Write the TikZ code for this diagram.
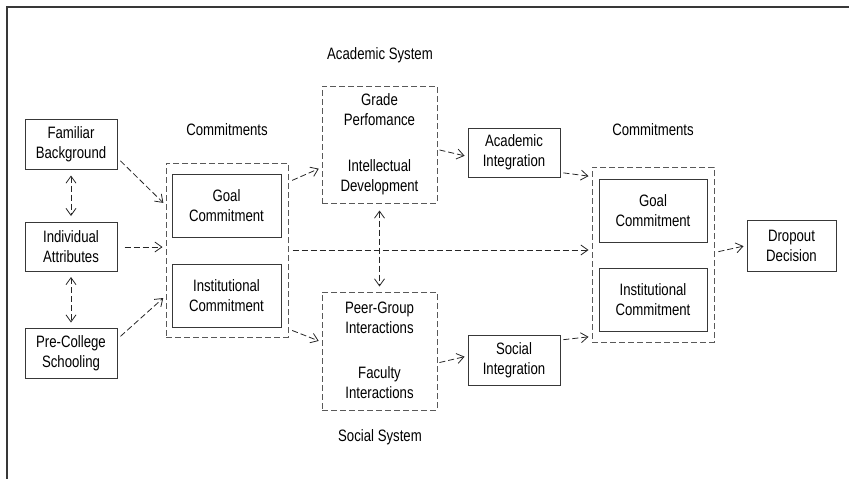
\documentclass[tikz,border=0pt]{standalone}
\usepackage{fontspec}
\setmainfont[FakeStretch=0.8]{Liberation Sans}
\usetikzlibrary{arrows.meta}
\definecolor{linie}{gray}{0.22}
\definecolor{punctat}{gray}{0.35}

\begin{document}
\begin{tikzpicture}[x=1pt,y=-1pt,
  font=\fontsize{16.5}{20}\selectfont,
  caseta/.style={draw=linie,line width=1pt,align=center,inner sep=0pt},
  grup/.style={draw=punctat,line width=1pt,dash pattern=on 6pt off 3pt,inner sep=0pt},
  eticheta/.style={align=center,text=black},
  sageata/.style={draw=black!85,line width=0.8pt,dash pattern=on 6pt off 3pt,
    -{Straight Barb[length=7pt,width=10pt]},shorten <=4pt,shorten >=3pt},
  dubla/.style={sageata,{Straight Barb[length=7pt,width=10pt]}-{Straight Barb[length=7pt,width=10pt]}}]
  \useasboundingbox (0,0) rectangle (849,479);

  % cadru
  \draw[linie,line width=1.2pt] (7,479) -- (7,7) -- (849,7);

  % factori de intrare
  \node[caseta,minimum width=92pt,minimum height=50pt] (fb) at (71,144) {Familiar\\Background};
  \node[caseta,minimum width=92pt,minimum height=49pt] (ia) at (71,247) {Individual\\Attributes};
  \node[caseta,minimum width=92pt,minimum height=50pt] (pc) at (71,353) {Pre-College\\Schooling};

  % angajamente (stânga)
  \node[eticheta] (tcl) at (227,130) {Commitments};
  \node[grup,minimum width=122pt,minimum height=174pt] (cl) at (227,250) {};
  \node[caseta,minimum width=109pt,minimum height=63pt] (gl) at (226.5,205.5) {Goal\\Commitment};
  \node[caseta,minimum width=109pt,minimum height=63pt] (il) at (226.5,295.5) {Institutional\\Commitment};

  % sistemul academic
  \node[eticheta] (tac) at (380,55) {Academic System};
  \node[grup,minimum width=115pt,minimum height=117pt] (acad) at (379.5,144.5) {};
  \node[eticheta] (gp) at (379.5,110) {Grade\\Perfomance};
  \node[eticheta] (id) at (379.5,177) {Intellectual\\Development};

  % sistemul social
  \node[grup,minimum width=115pt,minimum height=118pt] (soc) at (379.5,351) {};
  \node[eticheta] (pg) at (379.5,318) {Peer-Group\\Interactions};
  \node[eticheta] (fi) at (379.5,382.5) {Faculty\\Interactions};
  \node[eticheta] (tso) at (380,437) {Social System};

  % integrare
  \node[caseta,minimum width=92pt,minimum height=49pt] (ai) at (514,152.5) {Academic\\Integration};
  \node[caseta,minimum width=92pt,minimum height=50pt] (si) at (514,360) {Social\\Integration};

  % angajamente (dreapta)
  \node[eticheta] (tcr) at (653,130) {Commitments};
  \node[grup,minimum width=122pt,minimum height=175pt] (cr) at (653,254.5) {};
  \node[caseta,minimum width=108pt,minimum height=63pt] (gr) at (653,210.5) {Goal\\Commitment};
  \node[caseta,minimum width=108pt,minimum height=63pt] (ir) at (653,299.5) {Institutional\\Commitment};

  % decizia
  \node[caseta,minimum width=89pt,minimum height=51pt] (dd) at (791.5,245.5) {Dropout\\Decision};

  % săgeți
  \draw[dubla,shorten <=6pt,shorten >=6pt] (fb.south) -- (ia.north);
  \draw[dubla,shorten <=5pt,shorten >=5pt] (ia.south) -- (pc.north);
  \draw[sageata] ([yshift=-14pt]fb.east) -- ([yshift=45pt]cl.west);
  \draw[sageata,shorten <=7pt] (ia.east) -- (ia.east -| cl.west);
  \draw[sageata] ([yshift=14pt]pc.east) -- ([yshift=-46pt]cl.west);
  \draw[sageata] ([yshift=68pt]cl.east) -- ([yshift=-23pt]acad.west);
  \draw[sageata] ([yshift=-79pt]cl.east) -- ([yshift=9pt]soc.west);
  \draw[sageata] (cl.east) -- (cl.east -| cr.west);
  \draw[dubla,shorten <=7pt,shorten >=5pt] (acad.south) -- (soc.north);
  \draw[sageata,shorten <=2pt] ([yshift=-5pt]acad.east) -- ([yshift=-4pt]ai.west);
  \draw[sageata,shorten <=2pt] ([yshift=-12pt]soc.east) -- ([yshift=4pt]si.west);
  \draw[sageata,shorten <=3pt] ([yshift=-20pt]ai.east) -- ([yshift=78pt]cr.west);
  \draw[sageata,shorten <=3pt] ([yshift=20pt]si.east) -- ([yshift=-82pt]cr.west);
  \draw[sageata] ([yshift=2pt]cr.east) -- (dd.west);
\end{tikzpicture}
\end{document}
